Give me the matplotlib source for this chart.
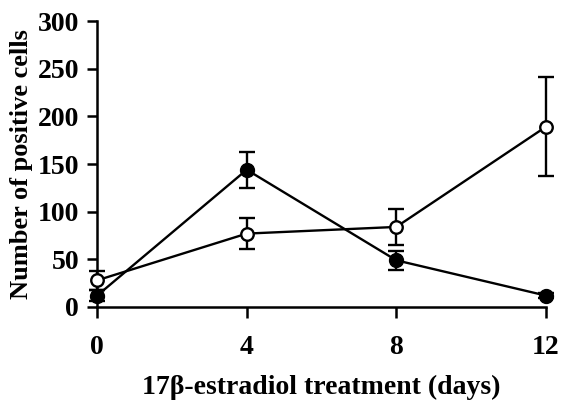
import matplotlib
matplotlib.use("Agg")
import matplotlib.pyplot as plt

days = [0, 4, 8, 12]
open_vals = [28, 77, 84, 189]
open_err = [10, 16, 19, 52]
filled_vals = [12, 144, 49, 12]
filled_err = [6, 19, 10, 3]
yticks = [0, 50, 100, 150, 200, 250, 300]

plt.rcParams['font.family'] = ['Liberation Serif', 'DejaVu Serif']
plt.rcParams['font.weight'] = 'bold'

fig = plt.figure(figsize=(5.65, 4.05), dpi=100)
ax = fig.add_axes([0.172, 0.242, 0.794, 0.706])

ax.errorbar(days, open_vals, yerr=open_err, color='black', lw=1.7, marker='o',
            mfc='white', mec='black', ms=9, mew=1.7, capsize=6, capthick=1.7,
            elinewidth=1.7, clip_on=False, zorder=3)
ax.errorbar(days, filled_vals, yerr=filled_err, color='black', lw=1.7, marker='o',
            mfc='black', mec='black', ms=10, capsize=6, capthick=1.7,
            elinewidth=1.7, clip_on=False, zorder=4)

ax.set_xlim(0, 12)
ax.set_ylim(0, 300)
ax.set_xticks(days)
ax.set_yticks(yticks)
ax.spines['top'].set_visible(False)
ax.spines['right'].set_visible(False)
ax.spines['left'].set_linewidth(1.8)
ax.spines['bottom'].set_linewidth(1.8)
ax.tick_params(axis='x', direction='out', length=8, width=1.8, pad=12, labelsize=20)
ax.tick_params(axis='y', direction='out', length=7, width=1.8, pad=6, labelsize=20)
for lab in ax.get_xticklabels() + ax.get_yticklabels():
    lab.set_fontweight('bold')

ax.set_xlabel('17β-estradiol treatment (days)', fontsize=20, fontweight='bold', labelpad=11)
ax.set_ylabel('Number of positive cells', fontsize=19, fontweight='bold', labelpad=3)

fig.savefig('out.png', dpi=100)
